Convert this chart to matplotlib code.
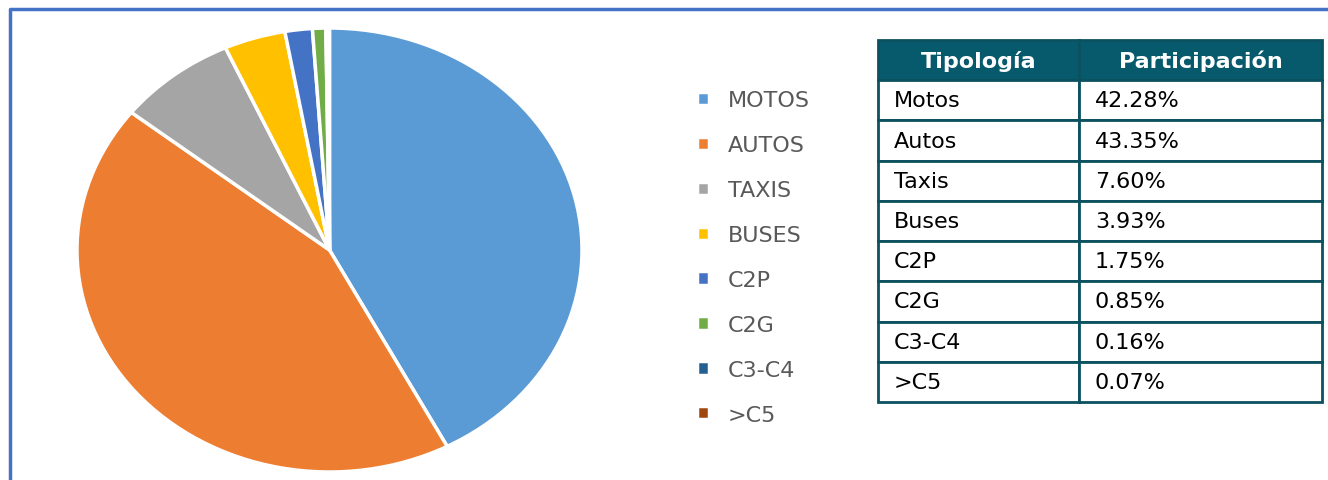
import matplotlib.pyplot as plt
from matplotlib.lines import Line2D

# datos de participación por tipología
etiquetas = ["MOTOS", "AUTOS", "TAXIS", "BUSES", "C2P", "C2G", "C3-C4", ">C5"]
participacion = [42.28, 43.35, 7.60, 3.93, 1.75, 0.85, 0.16, 0.07]
colores = ["#5B9BD5", "#ED7D31", "#A5A5A5", "#FFC000", "#4472C4", "#70AD47", "#255E91", "#9E480E"]

tabla_col = ["Tipología", "Participación"]
tabla_tipo = ["Motos", "Autos", "Taxis", "Buses", "C2P", "C2G", "C3-C4", ">C5"]
tabla_valor = ["42.28%", "43.35%", "7.60%", "3.93%", "1.75%", "0.85%", "0.16%", "0.07%"]

W, H = 1328, 481
fig = plt.figure(figsize=(W / 100, H / 100), dpi=100)

# pie (algo estirado en horizontal como en la imagen)
ax = fig.add_axes([77 / W, (H - 473) / H, 505 / W, 444 / H])
wedges, _ = ax.pie(participacion, colors=colores, startangle=90, counterclock=False,
                   radius=1, wedgeprops=dict(edgecolor="white", linewidth=2.5))
ax.set_aspect("auto")
ax.set_xlim(-1, 1)
ax.set_ylim(-1, 1)
ax.axis("off")

# leyenda
fig.legend(wedges, etiquetas, loc="center left",
           bbox_to_anchor=(697 / W, 1 - 258.5 / H), frameon=False,
           prop=dict(family="DejaVu Sans", size=16), labelcolor="#595959",
           handlelength=0.55, handleheight=0.55, handletextpad=0.85,
           labelspacing=1.12, borderpad=0, borderaxespad=0)

# tabla
axt = fig.add_axes([878 / W, (H - 403) / H, 444 / W, 362 / H])
axt.axis("off")
filas = [[t, v] for t, v in zip(tabla_tipo, tabla_valor)]
tb = axt.table(cellText=filas, colLabels=tabla_col, bbox=[0, 0, 1, 1],
               colWidths=[201 / 444, 243 / 444], cellLoc="left")
tb.auto_set_font_size(False)
tb.set_fontsize(16)
for (r, c), cell in tb.get_celld().items():
    cell.set_edgecolor("#0B5160")
    cell.set_linewidth(2)
    cell.PAD = 16 / (201 if c == 0 else 243)
    cell.get_text().set_family("DejaVu Sans")
    if r == 0:
        cell.set_facecolor("#075A6B")
        cell.get_text().set_color("white")
        cell.get_text().set_fontweight("bold")
        cell.get_text().set_ha("center")
        cell._loc = "center"

# borde azul
fig.add_artist(Line2D([10 / W, 10 / W, 1], [0, 1 - 10 / H, 1 - 10 / H],
                      color="#4472C4", linewidth=2.5, transform=fig.transFigure))

fig.savefig("out.png", dpi=100)
